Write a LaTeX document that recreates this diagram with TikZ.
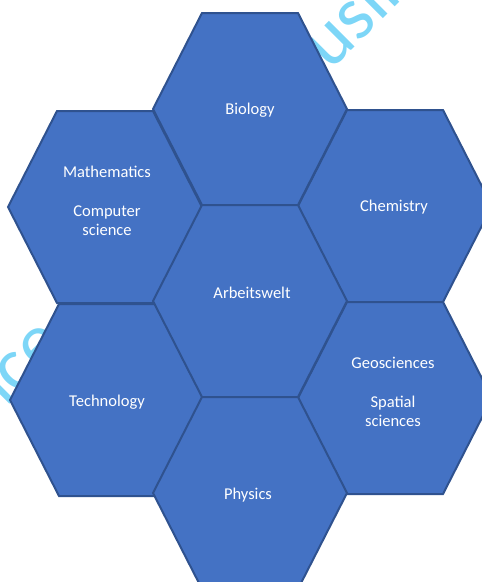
\documentclass[tikz,border=0pt]{standalone}
\usepackage{fontspec}
\setmainfont{Carlito}
\definecolor{hexfill}{RGB}{68,114,196}
\definecolor{hexline}{RGB}{47,82,143}
\definecolor{wmark}{RGB}{125,214,247}
\tikzset{
  hexshape/.style={fill=hexfill,draw=hexline,line width=2pt,line join=miter},
  label/.style={text=white,font=\fontsize{16.5}{19.5}\selectfont,align=center,inner sep=0pt},
  wm/.style={text=wmark,font=\fontsize{76}{76}\selectfont,inner sep=0pt,rotate=45}
}
\newcommand\hexcell[2]{\draw[hexshape,shift={(#1,#2)}] (-97,0) -- (-48,-96) -- (48,-96) -- (97,0) -- (48,96) -- (-48,96) -- cycle;}
\begin{document}
\begin{tikzpicture}[x=1pt,y=-1pt]
\useasboundingbox (0,0) rectangle (482,582);
% watermark fragments (behind)
\node[wm,anchor=base west] (wm1) at (330,72) {usin};
\node[wm,anchor=base east] (wm2) at (67,347) {nce};
% hexagons
\hexcell{105}{207}
\hexcell{107}{400}
\hexcell{395}{206}
\hexcell{395}{398}
\hexcell{250}{109}
\hexcell{250}{301}
\hexcell{250}{493}
% labels
\node[label] (bio) at (250,110) {Biology};
\node[label] (math) at (107,201) {Mathematics\\[19.5pt]Computer\\science};
\node[label] (chem) at (394,207) {Chemistry};
\node[label] (arb) at (252,293) {Arbeitswelt};
\node[label] (tech) at (107,402) {Technology};
\node[label] (geo) at (393,392) {Geosciences\\[19.5pt]Spatial\\sciences};
\node[label] (phys) at (248,495) {Physics};
\end{tikzpicture}
\end{document}
